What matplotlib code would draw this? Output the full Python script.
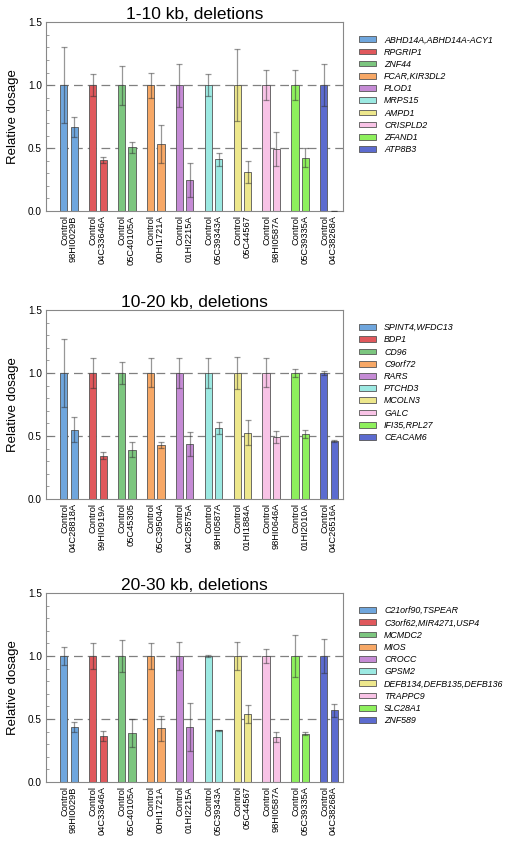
import numpy as np
import matplotlib
matplotlib.use('Agg')
import matplotlib.pyplot as plt
from matplotlib.ticker import MultipleLocator

plt.rcParams['font.family'] = ['Liberation Sans', 'DejaVu Sans']

colors = ['#6fa6dd', '#e0585c', '#7cc67f', '#f7a866', '#c58bd5',
          '#9ce9e2', '#ede78c', '#f8c3e6', '#8ef05d', '#5c6bcf']

# panel 1: 1-10 kb
samples_1 = ['98HI0029B', '04C33646A', '05C40105A', '00HI1721A', '01HI2215A',
             '05C39343A', '05C44567', '98HI0587A', '05C39335A', '04C38268A']
genes_1 = ['ABHD14A,ABHD14A-ACY1', 'RPGRIP1', 'ZNF44', 'FCAR,KIR3DL2', 'PLOD1',
           'MRPS15', 'AMPD1', 'CRISPLD2', 'ZFAND1', 'ATP8B3']
ctrl_err_1 = [0.30, 0.09, 0.155, 0.10, 0.17, 0.09, 0.285, 0.12, 0.12, 0.165]
case_1 = [0.67, 0.405, 0.505, 0.53, 0.245, 0.41, 0.31, 0.495, 0.425, 0.0]
case_err_1 = [0.08, 0.025, 0.04, 0.15, 0.135, 0.05, 0.085, 0.135, 0.075, 0.0]

# panel 2: 10-20 kb
samples_2 = ['04C28818A', '99HI0919A', '05C45305', '05C39504A', '04C28575A',
             '98HI0587A', '01HI1884A', '98HI0646A', '01HI2010A', '04C26516A']
genes_2 = ['SPINT4,WFDC13', 'BDP1', 'CD96', 'C9orf72', 'RARS',
           'PTCHD3', 'MCOLN3', 'GALC', 'IFI35,RPL27', 'CEACAM6']
ctrl_err_2 = [0.27, 0.12, 0.09, 0.115, 0.12, 0.12, 0.13, 0.115, 0.028, 0.018]
case_2 = [0.55, 0.345, 0.39, 0.43, 0.44, 0.564, 0.527, 0.493, 0.516, 0.462]
case_err_2 = [0.10, 0.03, 0.06, 0.025, 0.095, 0.05, 0.10, 0.05, 0.03, 0.008]

# panel 3: 20-30 kb
samples_3 = ['98HI0029B', '04C33646A', '05C40105A', '00HI1721A', '01HI2215A',
             '05C39343A', '05C44567', '98HI0587A', '05C39335A', '04C38268A']
genes_3 = ['C21orf90,TSPEAR', 'C3orf62,MIR4271,USP4', 'MCMDC2', 'MIOS', 'CROCC',
           'GPSM2', 'DEFB134,DEFB135,DEFB136', 'TRAPPC9', 'SLC28A1', 'ZNF589']
ctrl_err_3 = [0.075, 0.105, 0.13, 0.105, 0.11, 0.006, 0.11, 0.058, 0.166, 0.138]
case_3 = [0.434, 0.366, 0.39, 0.426, 0.437, 0.41, 0.537, 0.358, 0.384, 0.568]
case_err_3 = [0.04, 0.04, 0.11, 0.097, 0.19, 0.005, 0.07, 0.04, 0.012, 0.05]

panels = [
    ('1-10 kb, deletions', samples_1, genes_1, ctrl_err_1, case_1, case_err_1),
    ('10-20 kb, deletions', samples_2, genes_2, ctrl_err_2, case_2, case_err_2),
    ('20-30 kb, deletions', samples_3, genes_3, ctrl_err_3, case_3, case_err_3),
]

fig = plt.figure(figsize=(5.05, 8.41), dpi=100)
bottoms = [0.749, 0.4067, 0.0702]

for (title, samples, genes, ctrl_err, case, case_err), bot in zip(panels, bottoms):
    ax = fig.add_axes([0.091, bot, 0.588, 0.2247])
    x = np.arange(len(samples))
    ctrl = np.ones(len(samples))
    off = 0.18
    w = 0.25

    bars = ax.bar(x - off, ctrl, w, color=colors, edgecolor='#555555', linewidth=0.6, zorder=2)
    ax.bar(x + off, case, w, color=colors, edgecolor='#555555', linewidth=0.6, zorder=2)
    ax.errorbar(x - off, ctrl, yerr=ctrl_err, fmt='none', ecolor='#303030', alpha=0.5,
                elinewidth=0.9, capsize=2.5, capthick=0.9, zorder=3)
    ax.errorbar(x + off, case, yerr=case_err, fmt='none', ecolor='#303030', alpha=0.5,
                elinewidth=0.9, capsize=2.5, capthick=0.9, zorder=3)

    for yv in [0.5, 1.0]:
        ax.axhline(yv, color='#808080', lw=0.9, dashes=(7, 4), zorder=1)

    ax.set_xlim(-0.8, 9.48)
    ax.set_ylim(0, 1.5)
    ax.yaxis.set_minor_locator(MultipleLocator(0.1))
    ax.set_yticks([0, 0.5, 1.0, 1.5])
    ax.set_yticklabels(['0.0', '0.5', '1.0', '1.5'], fontsize=7.2)
    ax.tick_params(axis='y', which='both', direction='in', color='#777777', pad=3)
    ax.tick_params(axis='y', which='major', length=4, width=0.6)
    ax.tick_params(axis='y', which='minor', length=2, width=0.5)
    ax.set_xticks(x)
    ax.set_xticklabels(['Control\n' + s for s in samples], rotation=90, fontsize=6.7,
                       ha='center', va='top', multialignment='right', linespacing=1.0)
    ax.tick_params(axis='x', length=0, pad=3)
    for sp in ax.spines.values():
        sp.set_color('#888888')
        sp.set_linewidth(0.8)

    ax.set_ylabel('Relative dosage', fontsize=9.5, labelpad=6)
    ax.set_title(title, fontsize=12.5, pad=2)

    ax.legend(bars, genes, loc='upper left', bbox_to_anchor=(1.055, 0.93),
              frameon=False, prop={'style': 'italic', 'size': 6.4},
              handlelength=1.9, handleheight=0.6, handletextpad=0.9,
              labelspacing=0.36, borderpad=0, borderaxespad=0)

plt.savefig('out.png', dpi=100)
